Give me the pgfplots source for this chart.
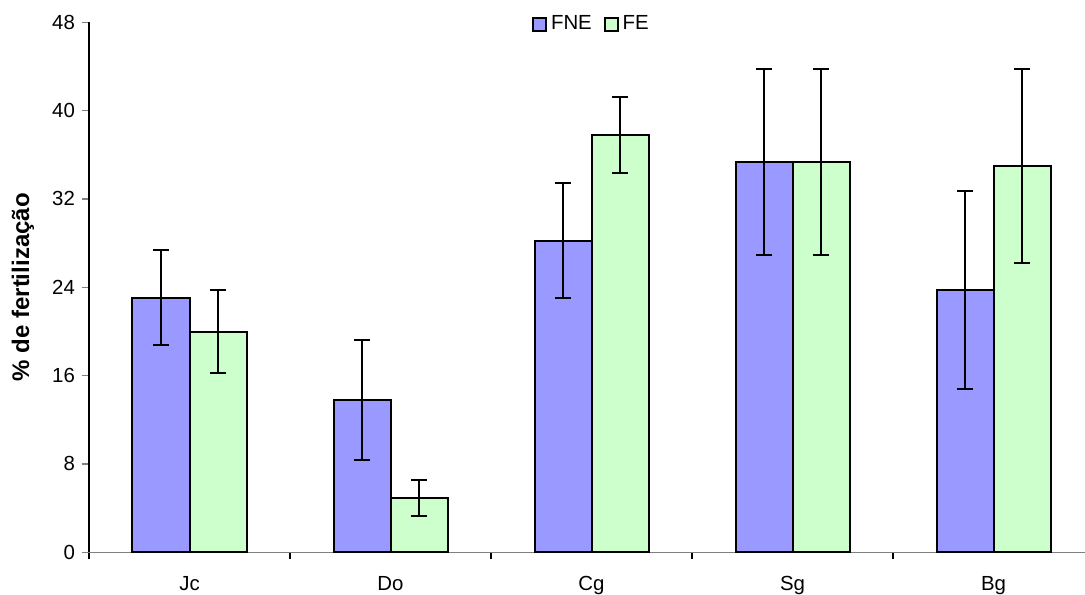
\documentclass[border=0pt]{standalone}
\usepackage{fontspec}
\setmainfont{Liberation Sans}
\usepackage{pgfplots}
\pgfplotsset{compat=1.18}
\definecolor{fne}{HTML}{9999FF}
\definecolor{fe}{HTML}{CCFFCC}
\definecolor{axgray}{HTML}{808080}
% square swatch used in the legend
\pgfplotsset{sq legend/.style={legend image code/.code={\draw[##1] (0pt,-3.2pt) rectangle (6.4pt,3.2pt);}}}

\begin{document}
\begin{tikzpicture}[font=\fontsize{10.2}{12}\selectfont]
\begin{axis}[
  at={(0pt,0pt)}, anchor=south west,
  scale only axis, width=498pt, height=265pt,
  xmin=-0.5, xmax=4.455, ymin=0, ymax=48,
  axis x line*=bottom, axis y line*=left,
  x axis line style={axgray, line width=0.6pt},
  y axis line style={black, line width=0.6pt},
  ytick={0,8,...,48},
  y tick style={axgray, line width=0.6pt},
  x tick style={black, line width=0.6pt},
  major tick length=3.5pt, tick align=outside,
  xtick={-0.5,0.5,1.5,2.5,3.5},
  xticklabels={Jc,Do,Cg,Sg,Bg},
  xticklabel style={xshift=50.25pt, yshift=-5pt},
  /pgf/number format/assume math mode=true,
  ylabel={\% de fertilização},
  ylabel style={font=\fontsize{12}{14}\selectfont\bfseries, at={(axis description cs:-0.0663,0.5)}, anchor=center},
  ybar, bar width=0.2836,
  legend style={at={(axis description cs:0.5055,0.9965)}, anchor=center, draw=none, fill=none,
    legend columns=2, /tikz/every even column/.append style={column sep=4pt}},
]
\addplot[bar shift=-0.1418, fill=fne, draw=black, line width=1pt, sq legend,
  error bars/.cd, y dir=both, y explicit,
  error bar style={line width=1pt, black},
  error mark options={black, line width=1pt, mark size=4pt, rotate=90}]
  coordinates {
    (0,23.06) +- (0,4.3)
    (1,13.82) +- (0,5.42)
    (2,28.22) +- (0,5.2)
    (3,35.33) +- (0,8.43)
    (4,23.76) +- (0,9.0)
  };
\addplot[bar shift=0.1418, fill=fe, draw=black, line width=1pt, sq legend,
  error bars/.cd, y dir=both, y explicit,
  error bar style={line width=1pt, black},
  error mark options={black, line width=1pt, mark size=4pt, rotate=90}]
  coordinates {
    (0,19.98) +- (0,3.77)
    (1,4.95) +- (0,1.63)
    (2,37.77) +- (0,3.43)
    (3,35.33) +- (0,8.43)
    (4,35.0) +- (0,8.8)
  };
\legend{FNE,FE}
\end{axis}
\pgfresetboundingbox
\useasboundingbox (-44.5pt,-20.85pt) rectangle (498pt,276.15pt);
\end{tikzpicture}
\end{document}
